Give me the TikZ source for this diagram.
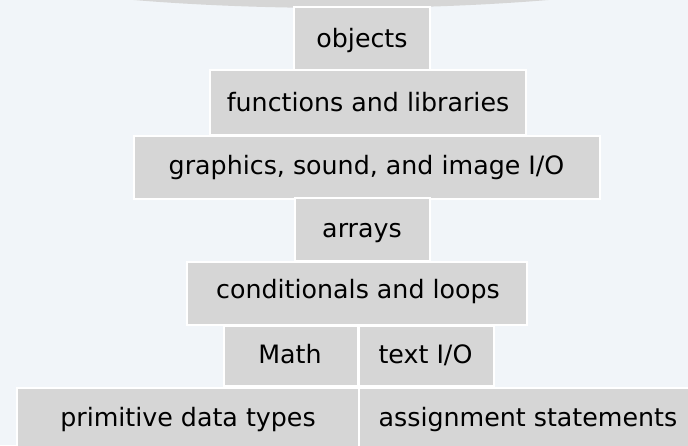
\documentclass[tikz,border=0pt]{standalone}
\usepackage{fontspec}
\setmainfont{DejaVu Sans}
\definecolor{bgc}{RGB}{241,245,249}
\definecolor{boxc}{RGB}{214,214,214}
\tikzset{
  box/.style={fill=boxc, draw=white, line width=1.5pt},
  lbl/.style={anchor=base, inner sep=0pt, font=\fontsize{25.3}{30}\selectfont, text=black},
}
\begin{document}
\begin{tikzpicture}[x=1pt,y=-1pt]
\useasboundingbox (0,0) rectangle (688,445);
\fill[bgc] (0,0) rectangle (688,445);
\begin{scope}
\clip (0,0) rectangle (688,445);
\fill[boxc] (341,-60) ellipse [x radius=440, y radius=68];
\draw[box] (294,7) rectangle (430,71);
\draw[box] (210,70) rectangle (526,135);
\draw[box] (134,136) rectangle (600,199);
\draw[box] (295,198) rectangle (430,261);
\draw[box] (187,262) rectangle (527,325);
\draw[box] (224,326) rectangle (358,386);
\draw[box] (359,326) rectangle (494,386);
\draw[box] (17,388) rectangle (359,460);
\draw[box] (359,388) rectangle (700,460);
\end{scope}
\node[lbl] (objects) at (362,47) {objects};
\node[lbl] (functions) at (368,111) {functions and libraries};
\node[lbl] (graphics) at (366.5,174) {graphics, sound, and image I/O};
\node[lbl] (arrays) at (362,237) {arrays};
\node[lbl] (conditionals) at (358,298) {conditionals and loops};
\node[lbl] (math) at (290,363) {Math};
\node[lbl] (textio) at (425.5,363) {text I/O};
\node[lbl] (primitive) at (188,426) {primitive data types};
\node[lbl] (assignment) at (528,426) {assignment statements};
\end{tikzpicture}
\end{document}
